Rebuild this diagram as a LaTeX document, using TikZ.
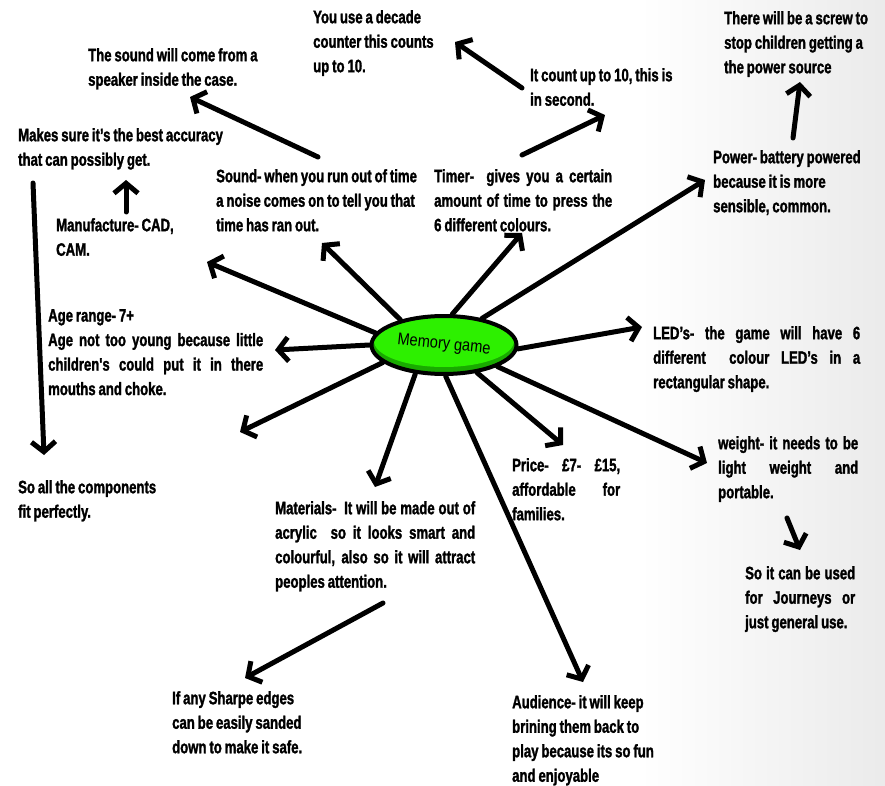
\documentclass[tikz,border=0pt]{standalone}
\usepackage{fontspec}
\setmainfont{Liberation Sans}
\newfontfamily\notefont[FakeStretch=0.73,FakeBold=1.5,WordSpace=0.8]{Liberation Sans Bold}
\newfontfamily\titlefont[FakeStretch=0.86]{Liberation Sans}
\usetikzlibrary{shapes.geometric,arrows.meta}
\definecolor{gbright}{RGB}{45,240,0}
\definecolor{gdark}{RGB}{25,170,0}
\newcommand{\jline}[1]{\makebox[\hsize][s]{#1}}
\tikzset{
  note/.style={anchor=north west, inner sep=0pt, align=flush left,
    font=\notefont\fontsize{18pt}{24.5pt}\selectfont},
  arr/.style={line width=5pt, line cap=round,
    -{Straight Barb[length=10pt,width=24pt]}},
  hub/.style={ellipse, draw, line width=4pt, inner sep=0pt,
    minimum width=145pt, minimum height=58pt,
    path picture={
      \fill[gdark] (path picture bounding box.south west) rectangle (path picture bounding box.north east);
      \fill[gbright] ([yshift=4pt]path picture bounding box.center) ellipse [x radius=70pt, y radius=26pt];
    }},
}
\begin{document}
\begin{tikzpicture}[x=1pt,y=-1pt]
  \useasboundingbox (0,0) rectangle (885,786);
  \fill[white] (0,0) rectangle (885,786);
  \shade[left color=white,right color=black!8] (640,0) rectangle (885,786);

  % notes
  \node[note] (decade) at (313,10) {You use a decade\\counter this counts\\up to 10.};
  \node[note] (speaker) at (88,48) {The sound will come from a\\speaker inside the case.};
  \node[note] (accuracy) at (18,128) {Makes sure it’s the best accuracy\\that can possibly get.};
  \node[note] (sound) at (216,169) {Sound- when you run out of time\\a noise comes on to tell you that\\time has ran out.};
  \node[note, text width=178pt] (timer) at (434,169) {\jline{Timer-\ \ gives you a certain}\\\jline{amount of time to press the}\\6 different colours.};
  \node[note] (count) at (530,68) {It count up to 10, this is\\in second.};
  \node[note] (screw) at (724,11) {There will be a screw to\\stop children getting a\\the power source};
  \node[note] (power) at (713,150) {Power- battery powered\\because it is more\\sensible, common.};
  \node[note] (manuf) at (56,218) {Manufacture- CAD,\\CAM.};
  \node[note, text width=215pt] (age) at (48,309) {Age range- 7+\\\jline{Age not too young because little}\\\jline{children's could put it in there}\\mouths and choke.};
  \node[note, text width=207pt] (led) at (653,326) {\jline{LED’s- the game will have 6}\\\jline{different\ \ colour LED’s in a}\\rectangular shape.};
  \node[note] (comps) at (18,480) {So all the components\\fit perfectly.};
  \node[note, text width=200pt] (mat) at (275,501) {\jline{Materials-\ \ It will be made out of}\\\jline{acrylic\ \ so it looks smart and}\\\jline{colourful, also so it will attract}\\peoples attention.};
  \node[note, text width=108pt] (price) at (512,458) {\jline{Price- £7- £15,}\\\jline{affordable for}\\families.};
  \node[note, text width=140pt] (weight) at (718,436) {\jline{weight- it needs to be}\\\jline{light weight and}\\portable.};
  \node[note, text width=110pt] (journey) at (745,566) {\jline{So it can be used}\\\jline{for Journeys or}\\just general use.};
  \node[note] (sharp) at (172,691) {If any Sharpe edges\\can be easily sanded\\down to make it safe.};
  \node[note] (aud) at (512,695) {Audience- it will keep\\brining them back to\\play because its so fun\\and enjoyable};

  % centre
  \node[hub] (mg) at (444,345) {\rotatebox{-6}{\titlefont\fontsize{17pt}{18pt}\selectfont Memory game}};

  % arrows out of the centre
  \draw[arr] (mg.170) -- ([shift={(151,44)}]manuf.north west);
  \draw[arr] (mg.150) -- ([shift={(106,74)}]sound.north west);
  \draw[arr] (mg.75) -- ([shift={(88,64)}]timer.north west);
  \draw[arr] (mg.35) -- ([shift={(-8,30)}]power.north west);
  \draw[arr] (mg.west) -- ([shift={(227,41)}]age.north west);
  \draw[arr] (mg.196) -- ([shift={(192,123)}]age.north west);
  \draw[arr] (mg.225) -- ([shift={(100,-14)}]mat.north west);
  \draw[arr] (mg.-40) -- ([shift={(51,-13)}]price.north west);
  \draw[arr] (mg.-22) -- ([shift={(-11,27)}]weight.north west);
  \draw[arr] (mg.-87) -- ([shift={(71,-13)}]aud.north west);
  \draw[arr] (mg.-3) -- ([shift={(-11,1)}]led.north west);

  % arrows between notes
  \draw[arr] ([shift={(102,-12)}]sound.north west) -- ([shift={(102,49)}]speaker.north west);
  \draw[arr] ([shift={(-8,20)}]count.north west) -- ([shift={(142,32)}]decade.north west);
  \draw[arr] ([shift={(88,-14)}]timer.north west) -- ([shift={(75,47)}]count.north west);
  \draw[arr] ([shift={(80,-12)}]power.north west) -- ([shift={(76,71)}]screw.north west);
  \draw[arr] ([shift={(70,-6)}]manuf.north west) -- ([shift={(108,52)}]accuracy.north west);
  \draw[arr] ([shift={(15,55)}]accuracy.north west) -- ([shift={(26,-25)}]comps.north west);
  \draw[arr] ([shift={(69,82)}]weight.north west) -- ([shift={(55,-16)}]journey.north west);
  \draw[arr] ([shift={(108,102)}]mat.north west) -- ([shift={(73,-13)}]sharp.north west);
\end{tikzpicture}
\end{document}
